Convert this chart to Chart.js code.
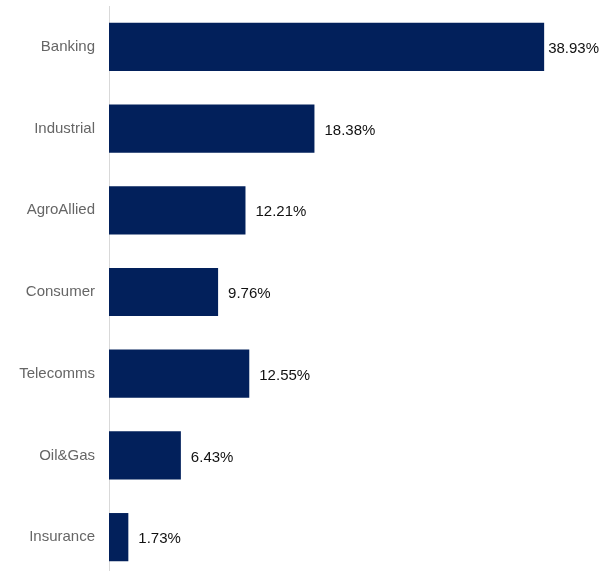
<!DOCTYPE html>
<html>
<head>
<meta charset="utf-8">
<script src="https://cdn.jsdelivr.net/npm/chart.js@4/dist/chart.umd.min.js"></script>
<style>
  html, body { margin: 0; padding: 0; background: #fff; overflow: hidden; }
  #wrap { position: absolute; left: 0; top: -17px; width: 612px; height: 618px; }
</style>
</head>
<body>
<div id="wrap"><canvas id="myChart"></canvas></div>
<script>
const sectors = ["Banking", "Industrial", "AgroAllied", "Consumer", "Telecomms", "Oil&Gas", "Insurance"];
const shares = [38.93, 18.38, 12.21, 9.76, 12.55, 6.43, 1.73];

// writes the value next to each bar end, pulled back in if it would run off the right side
const valueLabels = {
  id: "valueLabels",
  afterDatasetsDraw(chart) {
    const ctx = chart.ctx;
    const meta = chart.getDatasetMeta(0);
    ctx.save();
    ctx.font = "15px 'Liberation Sans', Arial, sans-serif";
    ctx.fillStyle = "#111";
    ctx.textAlign = "left";
    ctx.textBaseline = "middle";
    meta.data.forEach(function (bar, i) {
      const txt = shares[i].toFixed(2) + "%";
      const w = ctx.measureText(txt).width;
      let x = bar.x + 10;
      if (x + w > chart.width - 12) x = bar.x + 4;
      ctx.fillText(txt, x, bar.y + 2);
    });
    ctx.restore();
  }
};

const ctx = document.getElementById("myChart");

new Chart(ctx, {
  type: "bar",
  data: {
    labels: sectors,
    datasets: [{
      data: shares,
      backgroundColor: "#02205b",
      borderWidth: 0,
      barPercentage: 0.59,
      categoryPercentage: 1
    }]
  },
  options: {
    indexAxis: "y",
    responsive: true,
    maintainAspectRatio: false,
    animation: false,
    layout: { padding: 0 },
    plugins: {
      legend: { display: false },
      tooltip: { enabled: false }
    },
    scales: {
      x: {
        display: false,
        min: 0,
        max: 45
      },
      y: {
        afterFit: function (scale) { scale.width = 109; },
        grid: { display: false, drawTicks: false },
        border: { display: true, color: "#d9d9d9", width: 1 },
        ticks: {
          padding: 14,
          color: "#666",
          font: { size: 15, family: "'Liberation Sans', Arial, sans-serif" }
        }
      }
    }
  },
  plugins: [valueLabels]
});
</script>
</body>
</html>
